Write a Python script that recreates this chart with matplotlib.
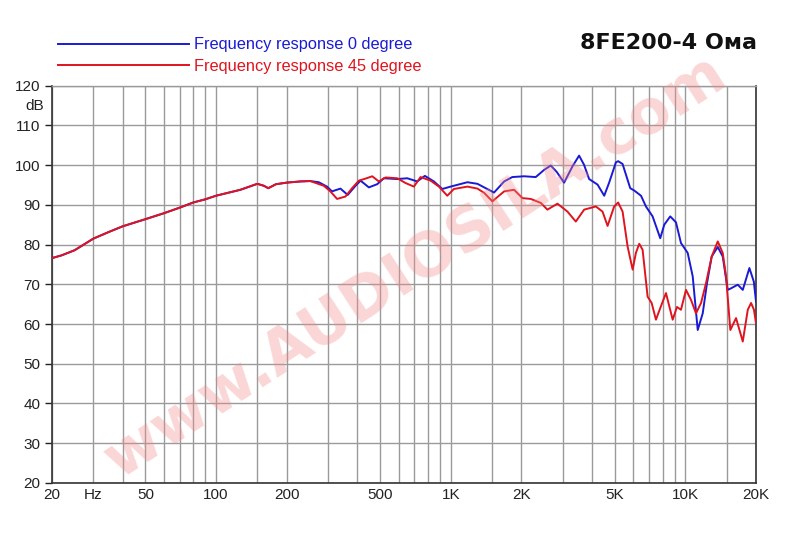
import matplotlib
matplotlib.use("Agg")
import matplotlib.pyplot as plt
import matplotlib.transforms as mtransforms
import numpy as np

# shared part of both curves (Hz, dB)
freq_common = [20, 22, 25, 30, 35, 40, 50, 60, 70, 80, 90, 100, 127, 150, 160,
               167, 180, 200, 229, 252]
db_common = [76.6, 77.3, 78.6, 81.5, 83.2, 84.6, 86.4, 87.9, 89.3, 90.6, 91.4,
             92.3, 93.8, 95.3, 94.8, 94.2, 95.2, 95.6, 95.9, 96.0]

# 0 degree
freq_0 = [274, 297, 312, 339, 364, 393, 413, 448, 486, 519, 592, 653, 720, 776,
          848, 921, 999, 1178, 1300, 1410, 1530, 1690, 1830, 2054, 2304, 2500,
          2670, 2830, 3043, 3304, 3525, 3700, 3890, 4226, 4510, 4734, 5058,
          5170, 5400, 5822, 6060, 6472, 6792, 7252, 7816, 8129, 8622, 9120,
          9578, 10232, 10748, 11290, 11858, 12366, 12950, 13742, 14430, 15157,
          15657, 16724, 17566, 18744, 19572, 20000]
db_0 = [95.7, 94.6, 93.4, 94.1, 92.5, 94.8, 96.1, 94.4, 95.2, 96.7, 96.5, 96.7,
        95.9, 97.3, 95.9, 94.0, 94.6, 95.7, 95.3, 94.2, 93.1, 95.9, 97.0, 97.2,
        97.0, 98.8, 99.9, 98.3, 95.6, 99.7, 102.4, 100.1, 96.5, 95.1, 92.3,
        95.6, 100.7, 101.0, 100.3, 94.2, 93.6, 92.3, 89.6, 87.1, 81.6, 85.0,
        87.1, 85.6, 80.4, 77.9, 72.0, 58.5, 62.7, 70.3, 77.0, 79.4, 77.0, 68.6,
        69.0, 69.9, 68.6, 74.1, 70.7, 65.7]

# 45 degree
freq_45 = [288, 307, 328, 356, 380, 406, 433, 463, 494, 528, 592, 642, 697, 744,
           821, 891, 967, 1032, 1178, 1300, 1390, 1505, 1690, 1862, 2022, 2193,
           2420, 2583, 2851, 3146, 3413, 3704, 4155, 4437, 4662, 4973, 5172,
           5402, 5675, 5962, 6155, 6360, 6574, 6904, 7184, 7493, 7871, 8268,
           8540, 8831, 9210, 9578, 10062, 10568, 11100, 11664, 12248, 12950,
           13742, 14430, 14906, 15548, 16444, 17566, 18452, 19058, 19600, 20000]
db_45 = [94.8, 93.4, 91.5, 92.1, 94.2, 96.1, 96.6, 97.2, 95.9, 96.9, 96.7, 95.5,
         94.6, 97.0, 96.1, 94.6, 92.3, 94.0, 94.6, 94.1, 93.0, 90.9, 93.4, 93.8,
         91.7, 91.5, 90.5, 88.8, 90.3, 88.3, 85.8, 88.8, 89.6, 88.3, 84.7, 89.6,
         90.6, 88.3, 79.5, 73.7, 77.9, 80.2, 78.7, 66.9, 65.3, 61.1, 64.5, 67.8,
         64.5, 61.1, 64.3, 63.6, 68.6, 66.1, 62.7, 65.3, 70.3, 77.0, 80.8, 77.9,
         72.0, 58.5, 61.5, 55.6, 63.6, 65.3, 63.6, 60.2]

grid_freqs = [20, 30, 40, 50, 60, 70, 80, 90, 100, 150, 200, 300, 400, 500, 600,
              700, 800, 900, 1000, 1500, 2000, 3000, 4000, 5000, 6000, 7000,
              8000, 9000, 10000, 15000, 20000]
xlabel_map = {20: "20", 30: "Hz", 50: "50", 100: "100", 200: "200", 500: "500",
              1000: "1K", 2000: "2K", 5000: "5K", 10000: "10K", 20000: "20K"}
y_ticks = list(range(20, 121, 10))

plt.rcParams['font.family'] = ['Liberation Sans', 'DejaVu Sans']

fig = plt.figure(figsize=(8, 5.39), dpi=100)
ax = fig.add_axes([0.065, 0.104, 0.880, 0.737])

blue_f = freq_common + freq_0
blue_v = db_common + db_0
red_f = freq_common + freq_45
red_v = db_common + db_45

ax.plot(blue_f, blue_v, color='#1a1ad6', lw=1.4, zorder=3,
        label='Frequency response 0 degree')
ax.plot(red_f, red_v, color='#e0141e', lw=1.4, zorder=4,
        label='Frequency response 45 degree')

ax.set_xscale('log')
ax.set_xlim(20, 20000)
ax.set_ylim(20, 120)
ax.set_xticks(grid_freqs)
ax.set_xticklabels([xlabel_map.get(f, "") for f in grid_freqs])
ax.xaxis.set_minor_locator(matplotlib.ticker.NullLocator())
ax.set_yticks(y_ticks)
ax.set_yticklabels([str(v) for v in y_ticks])
ax.tick_params(axis='x', length=0, labelsize=11, pad=4, colors='#222222')
ax.tick_params(axis='y', length=5, width=1, labelsize=11, colors='#222222')
ax.grid(True, color='#9a9a9a', lw=1.0, zorder=0)

for side in ['left', 'bottom', 'right']:
    ax.spines[side].set_color('#333333')
    ax.spines[side].set_linewidth(1.2)
ax.spines['top'].set_color('#9a9a9a')
ax.spines['top'].set_linewidth(1.0)

trans = mtransforms.blended_transform_factory(ax.transAxes, ax.transData)
ax.text(-0.012, 115, "dB", transform=trans, ha='right', va='center',
        fontsize=11, color='#222222')

# watermark
fig.text(0.52, 0.505, "www.AUDIOSILA.com", rotation=33, ha='center',
         va='center', fontsize=44, fontweight='bold', family='DejaVu Sans',
         color='#f28a8a', alpha=0.35, zorder=1)

fig.legend(loc='upper left', bbox_to_anchor=(0.054, 0.958), frameon=False,
           handlelength=8.0, handletextpad=0.3, labelspacing=0.40,
           fontsize=11.8, labelcolor=['#1a1ad6', '#e0141e'])

fig.text(0.946, 0.92, "8FE200-4 Ома", ha='right', va='center', fontsize=16,
         fontweight='bold', family='DejaVu Sans', color='#111111')

fig.savefig("out.png", dpi=100, facecolor='white')
